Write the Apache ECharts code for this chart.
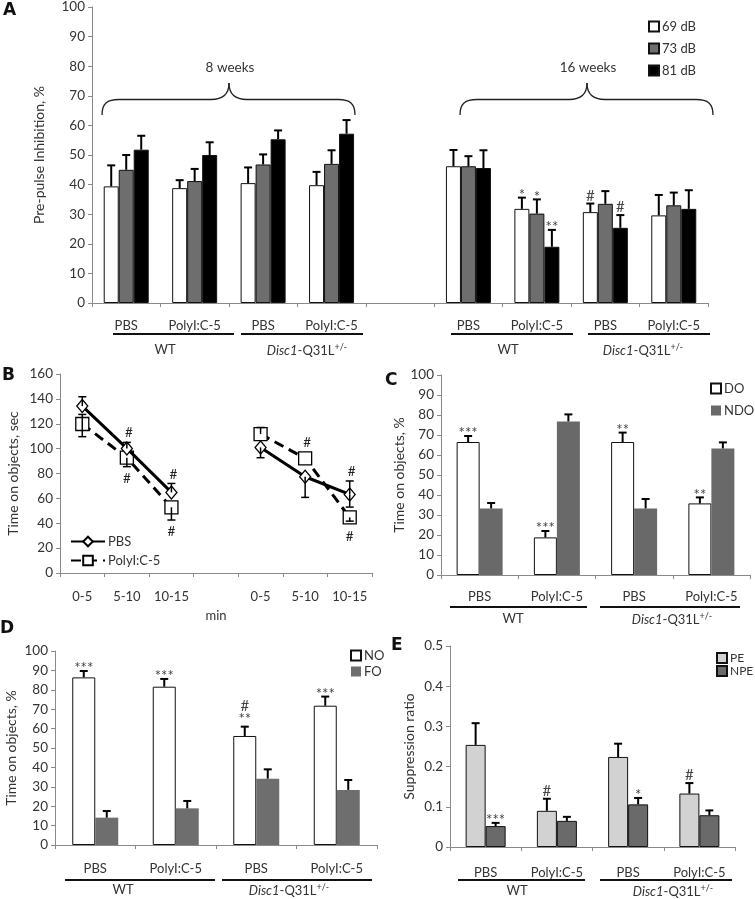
<!DOCTYPE html>
<html><head><meta charset="utf-8">
<script src="https://cdn.jsdelivr.net/npm/echarts@6/dist/echarts.min.js"></script>
<style>html,body{margin:0;padding:0;background:#fff}#c{width:755px;height:899px}</style>
</head><body><div id="c"></div><script>
// ---------------- DATA ----------------
const catsA = ['PBS','PolyI:C-5','PBS','PolyI:C-5','','PBS','PolyI:C-5','PBS','PolyI:C-5'];
const a69 = [39.4,38.8,40.5,39.8,'-',46.2,31.8,30.7,29.6];
const a73 = [45.0,41.2,46.8,47.0,'-',46.2,30.2,33.5,33.0];
const a81 = [51.8,50.0,55.3,57.2,'-',45.6,19.0,25.4,31.8];
const a69Err = [7.1,2.7,5.3,4.5,'-',5.5,3.8,2.9,6.9];
const a73Err = [5.0,4.1,3.4,4.6,'-',3.4,4.8,4.3,4.3];
const a81Err = [4.7,4.3,3.0,4.6,'-',6.0,5.7,4.3,6.3];
const a69Sig = ['','','','','','','*','#',''];
const a73Sig = ['','','','','','','*','',''];
const a81Sig = ['','','','','','','**','#',''];

const catsB = ['0-5','5-10','10-15','','0-5','5-10','10-15'];
const bPBS = [134.2,100.2,64.8,'-',101.0,77.4,63.2];
const bPBSUp = [7.5,4.8,7.2,0,0,0,10.8];
const bPBSDown = [0,0,0,0,8.3,16.6,10.2];
const bPBSSig = ['','#','#','','','','#'];
const bPBSSigSide = ['','above','above','','','','above'];
const bPoly = [119.8,92.7,52.8,'-',111.7,92.2,44.7];
const bPolyUp = [7.7,0,0,0,5.3,0,0];
const bPolyDown = [10.2,7.2,10.2,0,0,0,3.0];
const bPolySig = ['','#','#','','','#','#'];
const bPolySigSide = ['','below','below','','','above','below'];

const catsCDE = ['PBS','PolyI:C-5','PBS','PolyI:C-5'];
const cDO = [66.5,18.8,66.5,35.8];
const cDOErr = [3.0,3.2,4.7,3.0];
const cDOSig = ['***','***','**','**'];
const cNDO = [33.3,76.8,33.3,63.3];
const cNDOErr = [2.7,3.5,4.7,3.0];

const dNO = [86.4,81.6,56.2,71.8];
const dNOErr = [3.3,4.0,4.8,4.7];
const dNOSig = ['***','***','#\n**','***'];
const dFO = [14.1,18.9,34.2,28.4];
const dFOErr = [3.4,3.8,4.8,5.1];

const ePE = [0.254,0.090,0.224,0.133];
const ePEErr = [0.054,0.030,0.033,0.026];
const ePESig = ['','#','','#'];
const eNPE = [0.052,0.065,0.106,0.079];
const eNPEErr = [0.008,0.010,0.016,0.012];
const eNPESig = ['***','','*',''];

const genotypes = ['WT','Disc1-Q31L+/-'];

// ---------------- STYLE HELPERS ----------------
const FONT = 'Lato, "Open Sans", sans-serif';
const TXT = '#333';
const AX = '#8a8a8a';

function xCat(g, data, margin, name, nameGap){
  return {type:'category', gridIndex:g, data:data,
    axisLine:{lineStyle:{color:AX}},
    axisTick:{show:true, alignWithLabel:false, interval:0, length:4, lineStyle:{color:AX}},
    axisLabel:{show:true, interval:0, margin:margin, color:TXT, fontSize:13, fontFamily:FONT},
    name:name||'', nameLocation:'middle', nameGap:nameGap||30,
    nameTextStyle:{color:TXT, fontSize:13, fontFamily:FONT}};
}
function yVal(g, max, interval, name, nameGap, fmt){
  return {type:'value', gridIndex:g, min:0, max:max, interval:interval,
    splitLine:{show:false},
    axisLine:{show:true, lineStyle:{color:AX}},
    axisTick:{show:true, length:4, lineStyle:{color:AX}},
    axisLabel:{color:TXT, fontSize:13.5, fontFamily:FONT, margin:7, formatter:fmt},
    name:name, nameLocation:'middle', nameGap:nameGap, nameRotate:90,
    nameTextStyle:{color:TXT, fontSize:14, fontFamily:FONT}};
}
function barS(name, g, data, color, bw, border){
  return {type:'bar', name:name, xAxisIndex:g, yAxisIndex:g, data:data, barWidth:bw, barGap:'0%',
    itemStyle:{color:color, borderColor: border? '#111':color, borderWidth: border?1:0}, z:2, silent:true};
}
function errS(g, vals, errs, sigs, nBars, idx, bw){
  return {type:'custom', xAxisIndex:g, yAxisIndex:g, z:5, silent:true,
    data: vals.map((v,i)=> [i, v, errs[i]]),
    renderItem: function(params, api){
      const v = api.value(1);
      if (isNaN(v)) return;
      const i = api.value(0);
      const e = api.value(2) || 0;
      const p = api.coord([i, v]);
      const t = api.coord([i, v + e]);
      const x = p[0] + (idx - (nBars-1)/2) * bw;
      const ch = [];
      if (e > 0){
        ch.push({type:'line', shape:{x1:x,y1:p[1],x2:x,y2:t[1]}, style:{stroke:'#000', lineWidth:2}});
        ch.push({type:'line', shape:{x1:x-4,y1:t[1],x2:x+4,y2:t[1]}, style:{stroke:'#000', lineWidth:2}});
      }
      const s = sigs ? sigs[params.dataIndex] : '';
      if (s){
        ch.push({type:'text', x:x, y:t[1]+ (s.indexOf('*')===0 ? 4 : -1),
          style:{text:s, fill:'#444', font:'15px '+FONT, align:'center', verticalAlign:'bottom', lineHeight:13}});
      }
      return {type:'group', children:ch};
    }};
}
function lineErrS(g, vals, ups, downs, sigs, sides){
  return {type:'custom', xAxisIndex:g, yAxisIndex:g, z:6, silent:true,
    data: vals.map((v,i)=> [i, v, ups[i], downs[i]]),
    renderItem: function(params, api){
      const v = api.value(1);
      if (isNaN(v)) return;
      const i = api.value(0);
      const up = api.value(2)||0, dn = api.value(3)||0;
      const p = api.coord([i, v]);
      const tu = api.coord([i, v+up]);
      const td = api.coord([i, v-dn]);
      const x = p[0];
      const ch = [];
      const ls = {stroke:'#000', lineWidth:1.5};
      if (up>0){ ch.push({type:'line', shape:{x1:x,y1:p[1],x2:x,y2:tu[1]}, style:ls});
                 ch.push({type:'line', shape:{x1:x-4,y1:tu[1],x2:x+4,y2:tu[1]}, style:ls}); }
      if (dn>0){ ch.push({type:'line', shape:{x1:x,y1:p[1],x2:x,y2:td[1]}, style:ls});
                 ch.push({type:'line', shape:{x1:x-4,y1:td[1],x2:x+4,y2:td[1]}, style:ls}); }
      const s = sigs[params.dataIndex];
      if (s){
        const side = sides[params.dataIndex];
        if (side==='above'){
          const y = Math.min(tu[1], p[1]-7) - 2;
          ch.push({type:'text', x:x+2, y:y, style:{text:s, fill:'#222', font:'13.5px '+FONT, align:'center', verticalAlign:'bottom'}});
        } else {
          const y = Math.max(td[1], p[1]+7) + 5;
          ch.push({type:'text', x:x, y:y, style:{text:s, fill:'#222', font:'13.5px '+FONT, align:'center', verticalAlign:'top'}});
        }
      }
      return {type:'group', children:ch};
    }};
}

// ---------------- LAYOUT ----------------
const grids = [
  {left:92, top:6, width:616, height:297},   // A
  {left:60, top:374, width:312, height:199}, // B
  {left:441, top:375, width:309, height:200},// C
  {left:55, top:651, width:322, height:194}, // D
  {left:450, top:646, width:285, height:201} // E
];

const xAxes = [
  xCat(0, catsA, 16),
  xCat(1, catsB, 17, 'min', 36),
  xCat(2, catsCDE, 15),
  xCat(3, catsCDE, 17),
  xCat(4, catsCDE, 19)
];
const yAxes = [
  yVal(0, 100, 10, 'Pre-pulse Inhibition, %', 46),
  yVal(1, 160, 20, 'Time on objects, sec', 40),
  yVal(2, 100, 10, 'Time on objects, %', 30),
  yVal(3, 100, 10, 'Time on objects, %', 37),
  yVal(4, 0.5, 0.1, 'Suppression ratio', 34, v => v===0 ? '0' : v.toFixed(1))
];

const series = [
  barS('69 dB', 0, a69, '#ffffff', 15, true),
  barS('73 dB', 0, a73, '#6e6e6e', 15, true),
  barS('81 dB', 0, a81, '#000000', 15, true),
  errS(0, a69, a69Err, a69Sig, 3, 0, 15),
  errS(0, a73, a73Err, a73Sig, 3, 1, 15),
  errS(0, a81, a81Err, a81Sig, 3, 2, 15),

  {type:'line', name:'PBS', xAxisIndex:1, yAxisIndex:1, data:bPBS, connectNulls:false,
   symbol:'diamond', symbolSize:[11,13], z:4, silent:true,
   lineStyle:{color:'#000', width:3}, itemStyle:{color:'#fff', borderColor:'#000', borderWidth:1.3}},
  {type:'line', name:'PolyI:C-5', xAxisIndex:1, yAxisIndex:1, data:bPoly, connectNulls:false,
   symbol:'rect', symbolSize:13, z:3, silent:true,
   lineStyle:{color:'#000', width:3, type:[10,6]}, itemStyle:{color:'#fff', borderColor:'#000', borderWidth:1.3}},
  lineErrS(1, bPBS, bPBSUp, bPBSDown, bPBSSig, bPBSSigSide),
  lineErrS(1, bPoly, bPolyUp, bPolyDown, bPolySig, bPolySigSide),

  barS('DO', 2, cDO, '#ffffff', 23, true),
  barS('NDO', 2, cNDO, '#696969', 23, false),
  errS(2, cDO, cDOErr, cDOSig, 2, 0, 23),
  errS(2, cNDO, cNDOErr, null, 2, 1, 23),

  barS('NO', 3, dNO, '#ffffff', 23, true),
  barS('FO', 3, dFO, '#6e6e6e', 23, false),
  errS(3, dNO, dNOErr, dNOSig, 2, 0, 23),
  errS(3, dFO, dFOErr, null, 2, 1, 23),

  barS('PE', 4, ePE, '#d2d2d2', 20, true),
  barS('NPE', 4, eNPE, '#6a6a6a', 20, true),
  errS(4, ePE, ePEErr, ePESig, 2, 0, 20),
  errS(4, eNPE, eNPEErr, eNPESig, 2, 1, 20)
];

function leg(data, left, top, gap, fs){
  return {data:data, left:left, top:top, orient:'vertical', itemWidth:10, itemHeight:10, itemGap:gap,
    icon:'rect', selectedMode:false, textStyle:{color:TXT, fontSize:fs||13, fontFamily:FONT, padding:[0,0,0,-2]}};
}
const legends = [
  leg(['69 dB','73 dB','81 dB'], 643, 15, 9),
  leg(['DO','NDO'], 705, 377, 9),
  leg(['NO','FO'], 345, 644, 3),
  leg(['PE','NPE'], 711, 647, 1, 12),
  {data:['PBS','PolyI:C-5'], left:65, top:530, orient:'vertical', itemWidth:34, itemHeight:12, itemGap:6,
   selectedMode:false, textStyle:{color:TXT, fontSize:13, fontFamily:FONT, padding:[0,0,0,-2]}}
];

// ---------------- ANNOTATIONS (layout) ----------------
const g = [];
function letter(t, x, y){ g.push({type:'text', x:x, y:y, style:{text:t, fill:'#111', font:'bold 17px "DejaVu Sans", sans-serif'}}); }
letter('A', 3, 2); letter('B', 2, 367); letter('C', 385, 372); letter('D', 0, 620); letter('E', 391, 637);

function ttxt(t, x, y){ g.push({type:'text', x:x, y:y, style:{text:t, fill:TXT, font:'13.5px '+FONT, align:'center', verticalAlign:'middle'}}); }
function brace(x1, x2, xc, y0, yh, yt){
  const st = {stroke:'#222', lineWidth:1.3, fill:null};
  g.push({type:'bezierCurve', shape:{x1:x1,y1:y0,x2:x1+17,y2:yh,cpx1:x1,cpy1:yh+4,cpx2:x1+5,cpy2:yh}, style:st});
  g.push({type:'line', shape:{x1:x1+17,y1:yh,x2:xc-18,y2:yh}, style:st});
  g.push({type:'bezierCurve', shape:{x1:xc-18,y1:yh,x2:xc,y2:yt,cpx1:xc-6,cpy1:yh,cpx2:xc,cpy2:yh-5}, style:st});
  g.push({type:'bezierCurve', shape:{x1:xc,y1:yt,x2:xc+18,y2:yh,cpx1:xc,cpy1:yh-5,cpx2:xc+6,cpy2:yh}, style:st});
  g.push({type:'line', shape:{x1:xc+18,y1:yh,x2:x2-17,y2:yh}, style:st});
  g.push({type:'bezierCurve', shape:{x1:x2-17,y1:yh,x2:x2,y2:y0,cpx1:x2-5,cpy1:yh,cpx2:x2,cpy2:yh+4}, style:st});
}
brace(102, 355, 229, 115, 99.5, 83); ttxt('8 weeks', 230, 68);
brace(460, 713, 587, 115, 99.5, 83); ttxt('16 weeks', 588, 68);

function genoRow(segs, yLine, yText){
  segs.forEach((s, k)=>{
    g.push({type:'line', shape:{x1:s[0], y1:yLine, x2:s[1], y2:yLine}, style:{stroke:'#111', lineWidth:2}});
    const isDisc = genotypes[k%2] !== 'WT';
    if (!isDisc){
      g.push({type:'text', x:s[2], y:yText, style:{text:genotypes[0], fill:TXT, font:'13px '+FONT, align:'center', verticalAlign:'middle'}});
    } else {
      g.push({type:'text', x:s[2], y:yText, style:{text:'{i|Disc1}{n|-Q31L}{s|+/-}', align:'center', verticalAlign:'middle',
        rich:{i:{fontStyle:'italic', fontSize:13, fontFamily:FONT, fill:TXT, lineHeight:15, verticalAlign:'bottom'},
              n:{fontSize:13, fontFamily:FONT, fill:TXT, lineHeight:15, verticalAlign:'bottom'},
              s:{fontSize:9, fontFamily:FONT, fill:TXT, lineHeight:15, verticalAlign:'top'}}}});
    }
  });
}
genoRow([[113,234,165],[241,363,307],[451,573,508],[588,710,643]], 334, 350);
genoRow([[450,587,513],[600,740,672]], 607, 619);
genoRow([[65,215,123],[222,372,289]], 880, 890);
genoRow([[458,585,517],[600,732,673]], 880, 891);

const chart = echarts.init(document.getElementById('c'), null, {renderer:'canvas'});
chart.setOption({
  backgroundColor:'#fff',
  animation:false,
  textStyle:{fontFamily:FONT},
  grid: grids,
  xAxis: xAxes,
  yAxis: yAxes,
  legend: legends,
  series: series,
  graphic: g
});
</script></body></html>
